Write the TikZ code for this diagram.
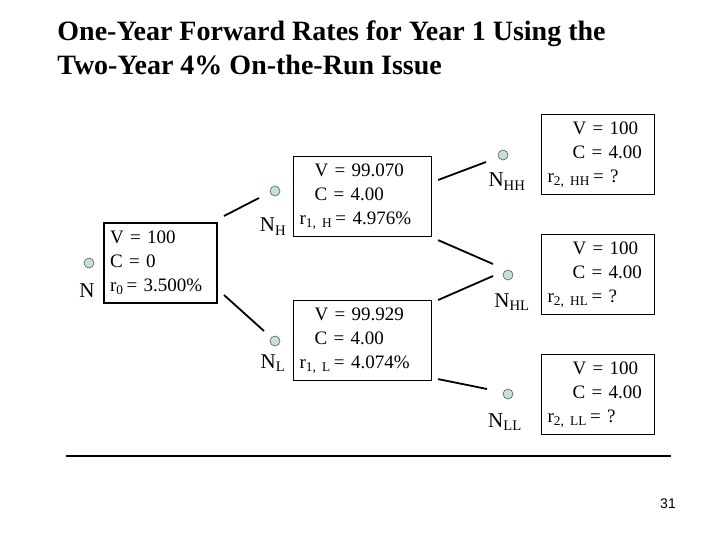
\documentclass[tikz,border=0pt]{standalone}
\usepackage{fontspec}
\setmainfont{Liberation Serif}
\setsansfont{Liberation Sans}
\usepackage{tikz}
\definecolor{dotblue}{HTML}{C5DEDF}

\begin{document}
\begin{tikzpicture}[x=1pt, y=-1pt, thick,
    dot node/.style={circle, draw=gray!70!black, line width=.6pt, fill=dotblue, minimum size=10pt, inner sep=0pt},
    main node/.style={anchor=base, inner sep=0pt, font=\fontsize{21}{24}\selectfont},
    val node/.style={draw, line width=1.1pt, anchor=north west, minimum height=80pt, align=left,
        inner xsep=6pt, inner ysep=0pt, font=\fontsize{19}{24}\selectfont},
    branch/.style={line width=1.8pt}]
\useasboundingbox (0,0) rectangle (720,540);
\node[anchor=north west, inner sep=0pt, align=left, font=\fontsize{28}{34}\selectfont\bfseries] (title) at (57,20)
    {One-Year Forward Rates for Year 1 Using the\\Two-Year 4\% On-the-Run Issue};

\node[dot node] (n) at (89,263) {};
\node[main node] (ln) at (87,297) {N};
\node[val node, text width=101pt, line width=2pt] (bn) at (103,222)
    {V = 100\\C = 0\\r\textsubscript{0}\,= 3.500\%};

\node[dot node] (nh) at (275,191) {};
\node[main node] (lnh) at (273,232) {N\textsubscript{H}};
\node[val node, text width=126pt] (bh) at (293,156)
    {\hspace*{15pt}V = 99.070\\\hspace*{15pt}C = 4.00\\r\textsubscript{1, H}\,= 4.976\%};

\node[dot node] (nl) at (275,341) {};
\node[main node] (lnl) at (273,368) {N\textsubscript{L}};
\node[val node, text width=126pt] (bl) at (293,300)
    {\hspace*{15pt}V = 99.929\\\hspace*{15pt}C = 4.00\\r\textsubscript{1, L}\,= 4.074\%};

\node[dot node] (nhh) at (503,155) {};
\node[main node] (lnhh) at (507,187) {N\textsubscript{HH}};
\node[val node, text width=101pt] (bhh) at (541,114)
    {\hspace*{25pt}V = 100\\\hspace*{25pt}C = 4.00\\r\textsubscript{2, HH}\,= ?};

\node[dot node] (nhl) at (508,275) {};
\node[main node] (lnhl) at (512,307) {N\textsubscript{HL}};
\node[val node, text width=101pt] (bhl) at (541,234)
    {\hspace*{25pt}V = 100\\\hspace*{25pt}C = 4.00\\r\textsubscript{2, HL}\,= ?};

\node[dot node] (nll) at (508,394) {};
\node[main node] (lnll) at (505,427) {N\textsubscript{LL}};
\node[val node, text width=101pt] (bll) at (541,354)
    {\hspace*{25pt}V = 100\\\hspace*{25pt}C = 4.00\\r\textsubscript{2, LL}\,= ?};

\draw[branch] ([xshift=6pt,yshift=6pt]bn.north east) -- ([xshift=-16pt,yshift=-7pt]nh.center);
\draw[branch] ([xshift=6pt,yshift=9pt]bn.south east) -- ([xshift=-11pt,yshift=10pt]nl.center);
\draw[branch] ([xshift=6pt,yshift=-24pt]bh.north east) -- ([xshift=-17pt,yshift=-7pt]nhh.center);
\draw[branch] ([xshift=6pt,yshift=-3pt]bh.south east) -- ([xshift=-15pt,yshift=11pt]nhl.center);
\draw[branch] ([xshift=6pt]bl.north east) -- ([xshift=-15pt,yshift=-1pt]nhl.center);
\draw[branch] ([xshift=6pt,yshift=2pt]bl.south east) -- ([xshift=-21pt,yshift=5pt]nll.center);

\draw[line width=1.3pt] (66,456) -- (671,456);
\node[font=\sffamily\fontsize{14}{16}\selectfont] (page) at (668,504) {31};
\end{tikzpicture}
\end{document}
